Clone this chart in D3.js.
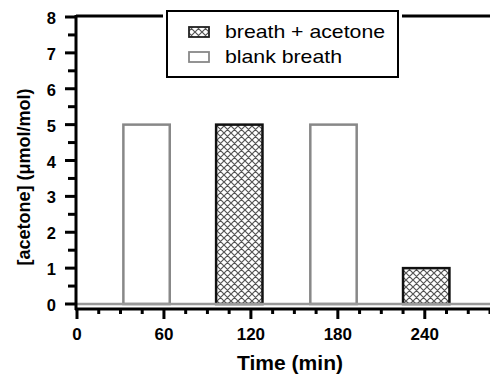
<!DOCTYPE html>
<html>
<head>
<meta charset="utf-8">
<script src="https://cdn.jsdelivr.net/npm/d3@7"></script>
<style>
  body { margin: 0; background: #fff; }
  text { font-family: Arial, "Liberation Sans", sans-serif; }
</style>
</head>
<body>
<div id="chart"></div>
<script>
// bar data
const times = [48, 112, 177, 241];          // bar centres (min)
const values = [5, 5, 5, 1];                // [acetone] (umol/mol)
const groups = ['blank', 'acetone', 'blank', 'acetone'];
const barWidth = 32;                        // min

const xTicks = [0, 60, 120, 180, 240];
const yTicks = [0, 1, 2, 3, 4, 5, 6, 7, 8];
const legendLabels = ['breath + acetone', 'blank breath'];

const W = 490, H = 375;

const svg = d3.select('#chart')
  .append('svg')
  .attr('width', W)
  .attr('height', H);

// crosshatch pattern
const defs = svg.append('defs');
const pat = defs.append('pattern')
  .attr('id', 'hatch')
  .attr('patternUnits', 'userSpaceOnUse')
  .attr('width', 7)
  .attr('height', 7);
pat.append('rect').attr('width', 7).attr('height', 7).attr('fill', '#fff');
pat.append('path')
  .attr('d', 'M0,0 L7,7 M7,0 L0,7 M-1,6 L1,8 M6,-1 L8,1 M-1,1 L1,-1 M6,8 L8,6')
  .attr('stroke', '#555')
  .attr('stroke-width', 1.2);

const x = d3.scaleLinear().domain([0, 285]).range([77, 490]);
const y = d3.scaleLinear().domain([0, 8]).range([304, 17]);

// bars
svg.selectAll('.bar')
  .data(times)
  .enter()
  .append('rect')
  .attr('class', 'bar')
  .attr('x', d => x(d - barWidth / 2))
  .attr('width', x(barWidth) - x(0))
  .attr('y', (d, i) => y(values[i]))
  .attr('height', (d, i) => y(0) - y(values[i]))
  .attr('fill', (d, i) => groups[i] === 'acetone' ? 'url(#hatch)' : '#fff')
  .attr('stroke', (d, i) => groups[i] === 'acetone' ? '#111' : '#888')
  .attr('stroke-width', 2.5);

// grey baseline at y = 0
svg.append('line')
  .attr('x1', 77).attr('x2', W)
  .attr('y1', y(0)).attr('y2', y(0))
  .attr('stroke', '#999')
  .attr('stroke-width', 2.5);

// top frame line
svg.append('line')
  .attr('x1', 76).attr('x2', W)
  .attr('y1', 16).attr('y2', 16)
  .attr('stroke', '#000')
  .attr('stroke-width', 3);

// y axis
const yAxis = svg.append('g')
  .attr('transform', 'translate(76,0)');
yAxis.append('line')
  .attr('y1', 15).attr('y2', 310)
  .attr('stroke', '#000')
  .attr('stroke-width', 3);
const yMinor = d3.range(0, 8.01, 0.5);
yAxis.selectAll('.ytick')
  .data(yMinor)
  .enter()
  .append('line')
  .attr('x1', d => Number.isInteger(d) ? -11 : -8)
  .attr('x2', 0)
  .attr('y1', d => y(d))
  .attr('y2', d => y(d))
  .attr('stroke', '#000')
  .attr('stroke-width', 3);
yAxis.selectAll('.ylab')
  .data(yTicks)
  .enter()
  .append('text')
  .attr('x', -20)
  .attr('y', d => y(d) + 7)
  .attr('text-anchor', 'end')
  .style('font-size', '16.5px')
  .style('font-weight', 'bold')
  .text(d => d);

// x axis
const xAxis = svg.append('g')
  .attr('transform', 'translate(0,309)');
xAxis.append('line')
  .attr('x1', 75).attr('x2', W)
  .attr('stroke', '#000')
  .attr('stroke-width', 3);
const xMinor = d3.range(0, 286, 15);
xAxis.selectAll('.xtick')
  .data(xMinor)
  .enter()
  .append('line')
  .attr('x1', d => x(d))
  .attr('x2', d => x(d))
  .attr('y1', 0)
  .attr('y2', d => d % 60 === 0 ? 10 : 5)
  .attr('stroke', '#000')
  .attr('stroke-width', 3);
xAxis.selectAll('.xlab')
  .data(xTicks)
  .enter()
  .append('text')
  .attr('x', d => x(d))
  .attr('y', 31)
  .attr('text-anchor', 'middle')
  .style('font-size', '17px')
  .style('font-weight', 'bold')
  .text(d => d);

// axis titles
svg.append('text')
  .attr('x', 237)
  .attr('y', 370)
  .attr('textLength', 106)
  .attr('lengthAdjust', 'spacingAndGlyphs')
  .style('font-size', '19.5px')
  .style('font-weight', 'bold')
  .text('Time (min)');

svg.append('text')
  .attr('transform', 'translate(30,177) rotate(-90)')
  .attr('text-anchor', 'middle')
  .style('font-size', '18px')
  .style('font-weight', 'bold')
  .text('[acetone] (\u03bcmol/mol)');

// legend
svg.append('rect')
  .attr('x', 163).attr('y', 6)
  .attr('width', 239).attr('height', 20)
  .attr('fill', '#fff');
const legend = svg.append('g')
  .attr('transform', 'translate(167,11)');
legend.append('rect')
  .attr('width', 231).attr('height', 66)
  .attr('fill', '#fff')
  .attr('stroke', '#000')
  .attr('stroke-width', 2);
const legendWidths = [160, 117];
legendLabels.forEach((label, i) => {
  legend.append('rect')
    .attr('x', 22).attr('y', 16 + i * 25)
    .attr('width', 20).attr('height', 10)
    .attr('fill', i === 0 ? 'url(#hatch)' : '#fff')
    .attr('stroke', i === 0 ? '#222' : '#888')
    .attr('stroke-width', 1.8);
  legend.append('text')
    .attr('x', 58).attr('y', 27 + i * 25)
    .attr('textLength', legendWidths[i])
    .attr('lengthAdjust', 'spacingAndGlyphs')
    .style('font-size', '18.5px')
    .text(label);
});
</script>
</body>
</html>
